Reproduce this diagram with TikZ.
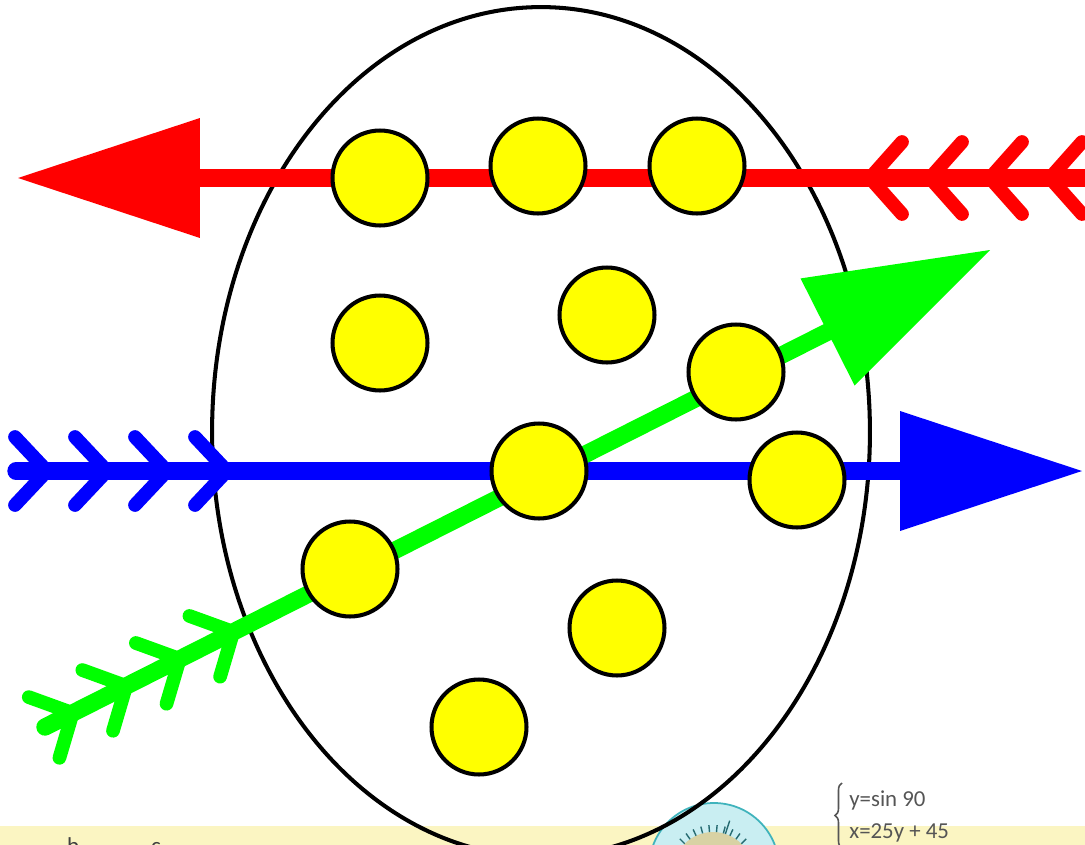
\documentclass[tikz,border=0pt]{standalone}
\usepackage{fontspec}
\setmainfont{Carlito}
\usepackage{tikz}
\usetikzlibrary{arrows.meta,calc,positioning,shapes.geometric,decorations.pathreplacing}
\definecolor{ballyellow}{HTML}{FFFF00}
\definecolor{arrowred}{HTML}{FF0000}
\definecolor{arrowblue}{HTML}{0000FF}
\definecolor{arrowgreen}{HTML}{00FF00}
\definecolor{band}{HTML}{FBF5C2}
\definecolor{dialteal}{HTML}{3FB3BC}
\definecolor{dialfill}{HTML}{C9EEF2}
\definecolor{dialface}{HTML}{D8D2A4}
\definecolor{eqgray}{HTML}{555555}
\tikzset{
  bighead/.style={-{Triangle[length=3.64cm,width=2.4cm,line width=0pt]}},
  shaft/.style={line width=9.9pt,line cap=round},
  fletch/.style={line width=7.8pt,line cap=round,line join=round},
  ball/.style={circle,draw=black,fill=ballyellow,line width=2.3pt,minimum size=1.9cm,inner sep=0pt},
  egg/.style={ellipse,draw=black,line width=2.3pt,minimum width=13.16cm,minimum height=17cm,inner sep=0pt},
  eq/.style={font=\fontsize{13}{18}\selectfont,text=eqgray,inner sep=0pt},
  curly/.style={decorate,decoration={brace,amplitude=4pt},draw=eqgray,line width=0.9pt}
}

\begin{document}
\begin{tikzpicture}[x=0.02cm,y=-0.02cm]
  \useasboundingbox (0,0) rectangle (1085,845);
  \fill[white] (0,0) rectangle (1085,845);
  \fill[band] (0,826) rectangle (1085,845);

  % dial peeking in at the bottom
  \draw[dialteal,line width=1pt,fill=dialfill] (714,868) circle [radius=65];
  \fill[dialface] (713,872) circle [radius=40];
  \foreach \a in {-135,-125,...,-45}
    \draw[dialteal!60!black,line width=0.8pt] ($(713,872)+(\a:40)$) -- ($(713,872)+(\a:47)$);
  \draw[dialteal!60!black,line width=0.8pt] ($(713,872)+(-72:40)$) -- ($(713,872)+(-72:54)$);

  \node[egg] (egg) at (541,432) {};

  \coordinate (rtail) at (1110,178);
  \coordinate (rtip) at (18,178);
  \coordinate (btail) at (16,471);
  \coordinate (btip) at (1082,471);
  \coordinate (gtail) at (45,727);
  \coordinate (gtip) at (990,250);

  % fletching
  \foreach \v in {870,930,990,1050}
    \draw[fletch,arrowred] (\v+32,142) -- (\v,178) -- (\v+32,214);
  \foreach \v in {47,107,167,227}
    \draw[fletch,arrowblue] (\v-32,437) -- (\v,471) -- (\v-32,505);
  \begin{scope}[shift={(gtail)},rotate=26.8]
    \foreach \v in {31,91,151,211}
      \draw[fletch,arrowgreen] (\v-32,-34) -- (\v,0) -- (\v-32,34);
  \end{scope}

  \draw[shaft,bighead,arrowred] (rtail) -- (rtip);
  \draw[shaft,bighead,arrowblue] (btail) -- (btip);
  \draw[shaft,bighead,arrowgreen] (gtail) -- (gtip);

  \node[ball] (b1) at (380,178) {};
  \node[ball] (b2) at (538,166) {};
  \node[ball] (b3) at (697,166) {};
  \node[ball] (b4) at (380,343) {};
  \node[ball] (b5) at (607,315) {};
  \node[ball] (b6) at (736,372) {};
  \node[ball] (b7) at (539,471) {};
  \node[ball] (b8) at (797,480) {};
  \node[ball] (b9) at (350,569) {};
  \node[ball] (b10) at (617,628) {};
  \node[ball] (b11) at (479,727) {};

  % equations in the corner
  \node[eq,anchor=base west] (eqa) at (849,806) {y=sin 90};
  \node[eq,anchor=base west] (eqb) at (849,838) {x=25y + 45};
  \coordinate (bracetop) at (842,783);
  \coordinate (bracebot) at (842,848);
  \draw[curly] (bracebot) -- (bracetop);

  \node[eq,anchor=base,text=black!75] (lblb) at (73,853) {b};
  \node[eq,anchor=base,text=black!75] (lblc) at (156,853) {c};
\end{tikzpicture}
\end{document}
